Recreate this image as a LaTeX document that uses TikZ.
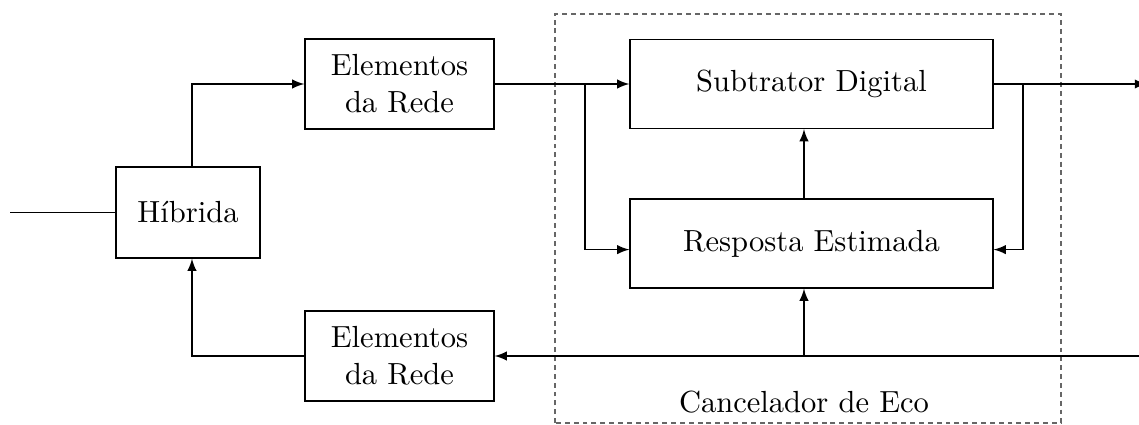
\documentclass[tikz,border=0pt]{standalone}
\usetikzlibrary{arrows}
\begin{document}
\begin{tikzpicture}[x=1.151cm,y=1.151cm,
  blk/.style={draw, rectangle, align=center, inner sep=0pt}]
\useasboundingbox (0,0) rectangle (11.39,4.24);
\draw[black!60, dash pattern=on 1.6pt off 1.3pt] (5.55,0.01) rectangle (10.61,4.10);
\node[blk, minimum width=1.657cm, minimum height=1.047cm] (hib) at (1.88,2.115){H\'{\i}brida};
\node[blk, minimum width=2.175cm, minimum height=1.036cm] (elem1) at (3.995,3.40){Elementos\\da Rede};
\node[blk, minimum width=2.175cm, minimum height=1.036cm] (elem2) at (3.995,0.68){Elementos\\da Rede};
\node[blk, minimum width=4.178cm, minimum height=1.024cm] (sub) at (8.115,3.40){Subtrator Digital};
\node[blk, minimum width=4.178cm, minimum height=1.024cm] (resp) at (8.115,1.805){Resposta Estimada};
\node[] (eco) at (8.04,0.22){Cancelador de Eco};
\coordinate (in) at (0.10,2.115);
\coordinate (b1) at (5.85,3.40);
\coordinate (b2) at (10.23,3.40);
\coordinate (out) at (11.47,3.40);
\coordinate (rin) at (11.39,0.68);
\coordinate (b3) at (8.04,0.68);
\draw[](in) -- (hib);
\draw[-latex]([xshift=1.3pt]hib.north) |- (elem1.west);
\draw[-latex](elem1) -- (sub);
\draw[-latex](b1) |- ([yshift=-2pt]resp.west);
\draw[-latex](sub.east) -- (out);
\draw[-latex](b2) |- ([yshift=-2pt]resp.east);
\draw[-latex](rin) -- (elem2.east);
\draw[-latex](b3) -- (b3 |- resp.south);
\draw[-latex](b3 |- resp.north) -- (b3 |- sub.south);
\draw[-latex](elem2.west) -| ([xshift=1.3pt]hib.south);
\end{tikzpicture}
\end{document}
